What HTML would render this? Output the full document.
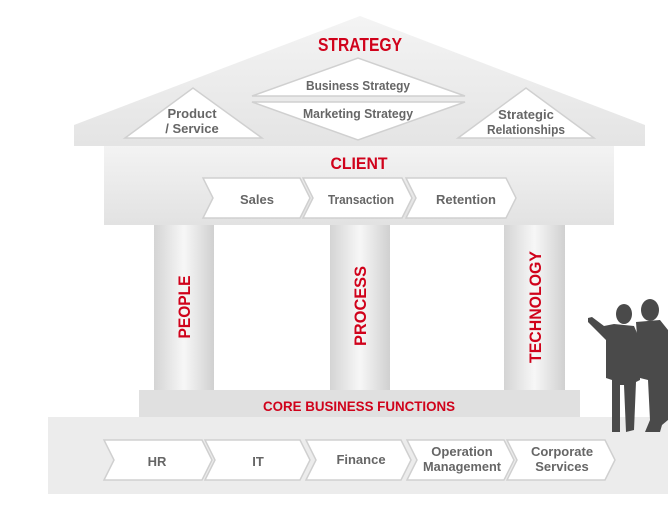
<!DOCTYPE html>
<html><head><meta charset="utf-8"><style>
html,body{margin:0;padding:0;background:#fff;}
svg{display:block;}
text{font-family:"Liberation Sans",sans-serif;}
.l{fill:#666;font-size:13px;font-weight:bold;text-anchor:middle;}
.r{fill:#d0021b;font-weight:bold;text-anchor:middle;}
</style></head><body>
<svg width="668" height="513" viewBox="0 0 668 513" xmlns="http://www.w3.org/2000/svg">
<defs>
<linearGradient id="pil" x1="0" x2="1" y1="0" y2="0">
<stop offset="0" stop-color="#d4d4d4"/><stop offset="0.5" stop-color="#f7f7f7"/><stop offset="1" stop-color="#d0d0d0"/>
</linearGradient>
<linearGradient id="beam" x1="0" x2="0" y1="0" y2="1">
<stop offset="0" stop-color="#f3f3f3"/><stop offset="1" stop-color="#e2e2e2"/>
</linearGradient>
<linearGradient id="roof" x1="0" x2="0" y1="0" y2="1">
<stop offset="0" stop-color="#f4f4f4"/><stop offset="1" stop-color="#e4e4e4"/>
</linearGradient>
</defs>
<polygon points="74,125 360,16 645,125 645,146 74,146" fill="url(#roof)"/>
<rect x="104" y="146" width="510" height="79" fill="url(#beam)"/>
<rect x="154" y="225" width="60" height="166" fill="url(#pil)"/>
<rect x="330" y="225" width="60" height="166" fill="url(#pil)"/>
<rect x="504" y="225" width="61" height="166" fill="url(#pil)"/>
<rect x="139" y="390" width="441" height="27" fill="#e0e0e0"/>
<rect x="48" y="417" width="620" height="77" fill="#ececec"/>
<g fill="#fff" stroke="#d0d0d0" stroke-width="1.5">
<polygon points="125,138 193,88 262,138"/>
<polygon points="252,96 358,58 465,96"/>
<polygon points="252,102 465,102 358,140"/>
<polygon points="458,138 526,88 594,138"/>
</g>
<text class="r" x="360" y="51" font-size="18" textLength="84" lengthAdjust="spacingAndGlyphs">STRATEGY</text>
<text class="l" x="358" y="90" textLength="104" lengthAdjust="spacingAndGlyphs">Business Strategy</text>
<text class="l" x="358" y="118" textLength="110" lengthAdjust="spacingAndGlyphs">Marketing Strategy</text>
<text class="l" x="192" y="118">Product</text>
<text class="l" x="192" y="133">/ Service</text>
<text class="l" x="526" y="119">Strategic</text>
<text class="l" x="526" y="134" textLength="78" lengthAdjust="spacingAndGlyphs">Relationships</text>
<text class="r" x="359" y="169" font-size="17" textLength="57" lengthAdjust="spacingAndGlyphs">CLIENT</text>
<g fill="#fff" stroke="#d0d0d0" stroke-width="1.5">
<polygon points="203,178 300,178 310,198 300,218 203,218 213,198"/>
<polygon points="303,178 402,178 412,198 402,218 303,218 313,198"/>
<polygon points="406,178 506,178 516,198 506,218 406,218 416,198"/>
</g>
<text class="l" x="257" y="204">Sales</text>
<text class="l" x="361" y="204" textLength="66" lengthAdjust="spacingAndGlyphs">Transaction</text>
<text class="l" x="466" y="204">Retention</text>
<text class="r" font-size="17" transform="translate(190,307) rotate(-90)" textLength="63" lengthAdjust="spacingAndGlyphs">PEOPLE</text>
<text class="r" font-size="17" transform="translate(366,306) rotate(-90)" textLength="80" lengthAdjust="spacingAndGlyphs">PROCESS</text>
<text class="r" font-size="17" transform="translate(541,307) rotate(-90)" textLength="112" lengthAdjust="spacingAndGlyphs">TECHNOLOGY</text>
<text class="r" x="359" y="411" font-size="14" textLength="192" lengthAdjust="spacingAndGlyphs">CORE BUSINESS FUNCTIONS</text>
<g fill="#fff" stroke="#d0d0d0" stroke-width="1.5">
<polygon points="104,440 202,440 212,460 202,480 104,480 114,460"/>
<polygon points="205,440 300,440 310,460 300,480 205,480 215,460"/>
<polygon points="306,440 401,440 411,460 401,480 306,480 316,460"/>
<polygon points="407,440 504,440 514,460 504,480 407,480 417,460"/>
<polygon points="507,440 605,440 615,460 605,480 507,480 517,460"/>
</g>
<text class="l" x="157" y="466">HR</text>
<text class="l" x="258" y="466">IT</text>
<text class="l" x="361" y="464">Finance</text>
<text class="l" x="462" y="456">Operation</text>
<text class="l" x="462" y="471" textLength="78" lengthAdjust="spacingAndGlyphs">Management</text>
<text class="l" x="562" y="456">Corporate</text>
<text class="l" x="562" y="471">Services</text>
<g fill="#4a4a4a">
<ellipse cx="650" cy="310" rx="9" ry="11"/>
<path d="M636,322 L660,320 L668,330 L668,420 L662,425 L660,432 L645,432 L650,420 L648,380 L640,378 Z"/>
<ellipse cx="624" cy="314" rx="8" ry="10"/>
<path d="M588,318 L592,317 L604,326 L614,324 L634,326 L640,340 L640,380 L636,382 L634,430 L626,432 L624,385 L620,385 L620,432 L612,432 L612,380 L606,378 L606,340 L600,334 L588,322 Z"/>
</g>
</svg>
</body></html>
